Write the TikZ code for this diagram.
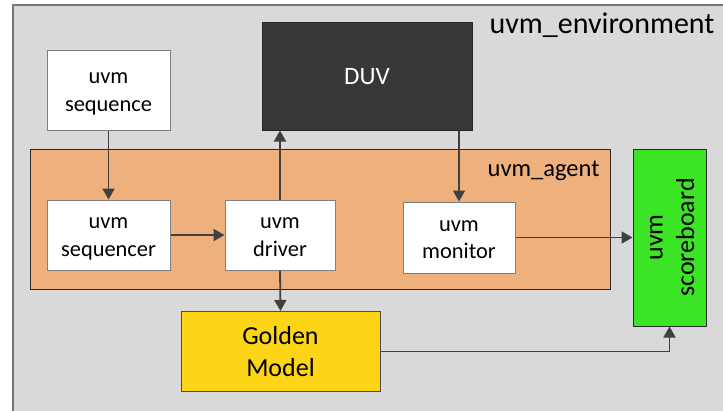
\documentclass[tikz,border=0pt]{standalone}
\usepackage{fontspec}
\setmainfont{Carlito}
\usetikzlibrary{arrows.meta}

\definecolor{envfill}{HTML}{D9D9D9}
\definecolor{envline}{HTML}{767676}
\definecolor{agentfill}{HTML}{EEB07C}
\definecolor{agentline}{HTML}{2A2A2A}
\definecolor{boxline}{HTML}{7F7F7F}
\definecolor{duvfill}{HTML}{383838}
\definecolor{sbfill}{HTML}{3BE424}
\definecolor{gmfill}{HTML}{FCD616}
\definecolor{arrowcol}{HTML}{404040}

% uniform line box so that multi-line labels sit like in an office drawing
\newcommand{\lnstrut}{\rule[-0.22\baselineskip]{0pt}{\baselineskip}}

\begin{document}
\begin{tikzpicture}[x=1pt,y=-1pt,
  box/.style={draw=boxline, fill=white, line width=1pt, inner sep=0pt,
    align=center, font=\fontsize{22.4}{27.3}\selectfont},
  bigbox/.style={draw=agentline, line width=1pt, inner sep=0pt,
    align=center, font=\fontsize{26}{31.7}\selectfont},
  flow/.style={draw=arrowcol, line width=1.8pt,
    -{Triangle[length=11pt,width=12pt]}}]

\useasboundingbox (0,0) rectangle (723,410);
\clip (0,0) rectangle (723,410);

% environment frame (runs off the right and bottom edges)
\node[draw=envline, fill=envfill, line width=1.6pt, inner sep=0pt,
  anchor=north west, minimum width=740pt, minimum height=440pt]
  (env) at (12,4) {};
\node[anchor=base east, font=\fontsize{30}{36.6}\selectfont]
  (envlbl) at (718,33) {uvm\_environment};

% agent container
\node[draw=agentline, fill=agentfill, line width=1pt, inner sep=0pt,
  anchor=north west, minimum width=580pt, minimum height=140pt]
  (agent) at (30,149) {};
\node[anchor=base east, font=\fontsize{24.5}{29.9}\selectfont]
  (agentlbl) at (603,176) {uvm\_agent};

% blocks
\node[box, minimum width=123pt, minimum height=80pt]
  (seq) at (108.5,90) {uvm\lnstrut\\sequence\lnstrut};
\node[box, minimum width=123pt, minimum height=70pt]
  (sqr) at (108.5,235) {uvm\lnstrut\\sequencer\lnstrut};
\node[box, minimum width=110pt, minimum height=70pt]
  (drv) at (280,235) {uvm\lnstrut\\driver\lnstrut};
\node[box, minimum width=112pt, minimum height=71pt]
  (mon) at (459,237.5) {uvm\lnstrut\\monitor\lnstrut};

\node[draw=black!85, fill=duvfill, line width=1pt, inner sep=0pt,
  text=white, font=\fontsize{25}{30.5}\selectfont,
  minimum width=210pt, minimum height=108pt]
  (duv) at (367,76) {DUV\lnstrut};

\node[bigbox, fill=sbfill, minimum width=73pt, minimum height=177pt]
  (sb) at (669.5,237.5) {};
\node[rotate=90, inner sep=0pt, align=center,
  font=\fontsize{26}{31.7}\selectfont]
  (sbtext) at (sb.center) {uvm\lnstrut\\scoreboard\lnstrut};

\node[bigbox, draw=black!70, fill=gmfill, minimum width=199pt, minimum height=80pt]
  (gm) at (280.5,351.5) {Golden\lnstrut\\Model\lnstrut};

% connections
\draw[flow] (seq.south) -- (sqr.north);
\draw[flow] (sqr.east) -- (drv.west);
\draw[flow] (drv.north) -- (drv.north |- duv.south);
\draw[flow] (duv.south -| mon.north) -- (mon.north);
\draw[flow] (drv.south) -- (gm.north);
\draw[flow] (mon.east) -- (mon.east -| sb.west);
\draw[flow] (gm.east) -| (sb.south);

\end{tikzpicture}
\end{document}
